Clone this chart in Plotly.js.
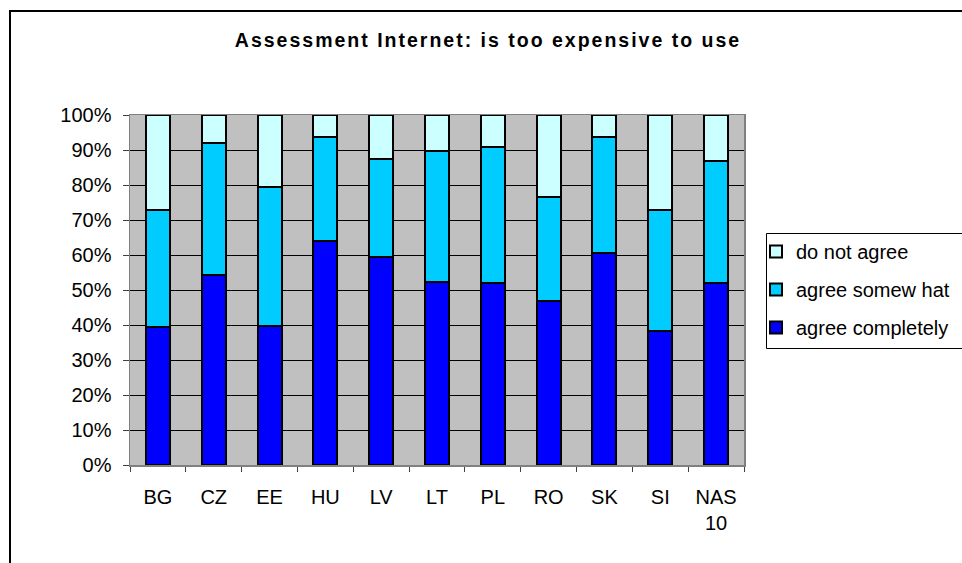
<!DOCTYPE html>
<html>
<head>
<meta charset="utf-8">
<script src="https://cdn.plot.ly/plotly-3.0.1.min.js"></script>
<style>
html, body { margin: 0; padding: 0; overflow: hidden; background: #fff; }
#chart { width: 990px; height: 563px; }
#chart .gtitle { letter-spacing: 2px; }
</style>
</head>
<body>
<div id="chart"></div>
<script>
var categories = ['BG', 'CZ', 'EE', 'HU', 'LV', 'LT', 'PL', 'RO', 'SK', 'SI', 'NAS 10'];
var tickLabels = ['BG', 'CZ', 'EE', 'HU', 'LV', 'LT', 'PL', 'RO', 'SK', 'SI', 'NAS<br>10'];
var agreeCompletely = [39.3, 54.3, 39.8, 64.0, 59.4, 52.4, 52.0, 46.9, 60.6, 38.3, 52.0];
var agreeSomewhat   = [33.7, 37.6, 39.5, 29.7, 27.9, 37.3, 38.8, 29.6, 33.0, 34.7, 34.8];
var doNotAgree      = [27.0,  8.1, 20.7,  6.3, 12.7, 10.3,  9.2, 23.5,  6.4, 27.0, 13.2];
var seriesNames = ['agree completely', 'agree somew hat', 'do not agree'];
var yTicks = [0, 10, 20, 30, 40, 50, 60, 70, 80, 90, 100];

var FONT = 'Liberation Sans, Arial, sans-serif';
var colors = ['#0000FF', '#00CCFF', '#CCFFFF'];
var values = [agreeCompletely, agreeSomewhat, doNotAgree];

var traces = values.map(function (v, i) {
  return {
    type: 'bar',
    x: categories,
    y: v,
    name: seriesNames[i],
    legendgroup: 'g' + i,
    legendrank: 3 - i,
    marker: { color: colors[i], line: { color: '#000000', width: 2 } },
    hoverinfo: 'x+y+name'
  };
});

// plot area in pixels: x 130..744, y 115..465
var W = 990, H = 563, L = 130, R = 744, T = 115, B = 465;
var pw = R - L, ph = B - T;

var layout = {
  width: W,
  height: H,
  margin: { l: L, r: W - R, t: T, b: H - B, pad: 0 },
  paper_bgcolor: '#FFFFFF',
  plot_bgcolor: '#C0C0C0',
  barmode: 'stack',
  bargap: 0.57,
  font: { family: FONT, size: 20, color: '#000000' },
  title: {
    text: '<b>Assessment Internet: is too expensive to use</b>',
    font: { family: FONT, size: 19.5, color: '#000000' },
    x: 488 / W,
    xref: 'container',
    xanchor: 'center',
    y: 1 - 40 / H,
    yref: 'container',
    yanchor: 'middle'
  },
  xaxis: {
    type: 'category',
    tickmode: 'array',
    tickvals: categories,
    ticktext: tickLabels,
    tickson: 'boundaries',
    ticks: 'outside',
    ticklen: 5,
    tickcolor: '#404040',
    tickwidth: 1,
    showline: true,
    linecolor: '#808080',
    linewidth: 1.5,
    mirror: true,
    showgrid: false,
    tickfont: { family: FONT, size: 20, color: '#000000' },
    ticklabelstandoff: 13,
    fixedrange: true
  },
  yaxis: {
    range: [0, 100],
    tickmode: 'array',
    tickvals: yTicks,
    ticktext: yTicks.map(function (t) { return t + '%'; }),
    ticks: 'outside',
    ticklen: 6,
    tickcolor: '#404040',
    tickwidth: 1,
    showline: true,
    linecolor: '#808080',
    linewidth: 1.5,
    mirror: true,
    showgrid: true,
    gridcolor: '#000000',
    gridwidth: 1,
    zeroline: false,
    tickfont: { family: FONT, size: 20, color: '#000000' },
    ticklabelstandoff: 7,
    fixedrange: true
  },
  showlegend: true,
  legend: {
    x: (756 - L) / pw,
    xanchor: 'left',
    y: (B - 232) / ph,
    yanchor: 'top',
    bgcolor: 'rgba(0,0,0,0)',
    borderwidth: 0,
    traceorder: 'grouped',
    tracegroupgap: 9,
    font: { family: FONT, size: 20, color: '#000000' },
    itemclick: false,
    itemdoubleclick: false
  },
  shapes: [{
    type: 'rect',
    xref: 'paper', yref: 'paper',
    x0: (10 - L) / pw, x1: 2,
    y0: -2, y1: (B - 11) / ph,
    line: { color: '#000000', width: 2 },
    fillcolor: 'rgba(0,0,0,0)',
    layer: 'above'
  }, {
    type: 'rect',
    xref: 'paper', yref: 'paper',
    x0: (766.5 - L) / pw, x1: (1000 - L) / pw,
    y0: (B - 348.5) / ph, y1: (B - 233.5) / ph,
    line: { color: '#000000', width: 1 },
    fillcolor: '#FFFFFF',
    layer: 'above'
  }]
};

Plotly.newPlot('chart', traces, layout, { displayModeBar: false, staticPlot: true });
</script>
</body>
</html>
